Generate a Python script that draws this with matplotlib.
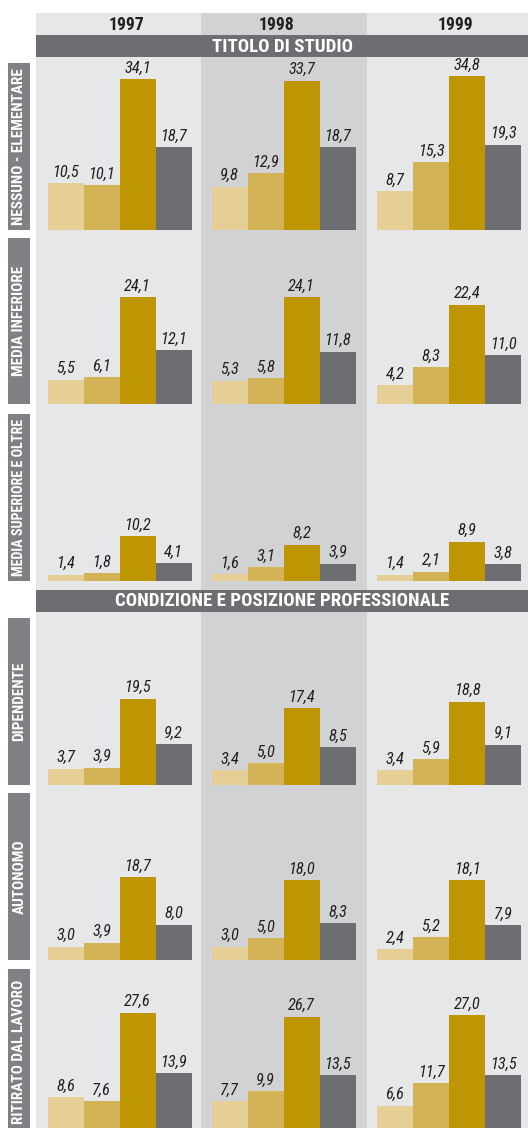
import matplotlib
matplotlib.use("Agg")
import matplotlib.pyplot as plt
from matplotlib.patches import Rectangle
from matplotlib import font_manager

# ---- data -------------------------------------------------------------
years = ["1997", "1998", "1999"]
section_titles = ["TITOLO DI STUDIO", "CONDIZIONE E POSIZIONE PROFESSIONALE"]
row_labels = [
    "NESSUNO - ELEMENTARE",
    "MEDIA INFERIORE",
    "MEDIA SUPERIORE E OLTRE",
    "DIPENDENTE",
    "AUTONOMO",
    "RITIRATO DAL LAVORO",
]

# four series per panel, one list per year
nessuno_elementare = [[10.5, 10.1, 34.1, 18.7], [9.8, 12.9, 33.7, 18.7], [8.7, 15.3, 34.8, 19.3]]
media_inferiore = [[5.5, 6.1, 24.1, 12.1], [5.3, 5.8, 24.1, 11.8], [4.2, 8.3, 22.4, 11.0]]
media_superiore = [[1.4, 1.8, 10.2, 4.1], [1.6, 3.1, 8.2, 3.9], [1.4, 2.1, 8.9, 3.8]]
dipendente = [[3.7, 3.9, 19.5, 9.2], [3.4, 5.0, 17.4, 8.5], [3.4, 5.9, 18.8, 9.1]]
autonomo = [[3.0, 3.9, 18.7, 8.0], [3.0, 5.0, 18.0, 8.3], [2.4, 5.2, 18.1, 7.9]]
ritirato = [[8.6, 7.6, 27.6, 13.9], [7.7, 9.9, 26.7, 13.5], [6.6, 11.7, 27.0, 13.5]]

rows = [nessuno_elementare, media_inferiore, media_superiore, dipendente, autonomo, ritirato]

# ---- style ------------------------------------------------------------
bar_colors = ["#e5cf97", "#d4b256", "#be9604", "#6d6e71"]
col_bg = ["#e6e7e8", "#d1d2d4", "#e6e7e8"]
banner_color = "#6d6e71"
label_box_color = "#808184"
text_dark = "#231f20"

names = {f.name for f in font_manager.fontManager.ttflist}
FONT = dict(family="DejaVu Sans", stretch="condensed")
for cand in ["Roboto Condensed", "Liberation Sans Narrow", "Open Sans Condensed"]:
    if cand in names:
        FONT = dict(family=cand)
        break

W, H = 528, 1128
fig = plt.figure(figsize=(W / 100, H / 100), dpi=100)
fig.patch.set_facecolor("white")
renderer = fig.canvas.get_renderer()


def fx(x):
    return x / W


def fy(y):
    return 1 - y / H


def rect_px(x0, y0, x1, y1, color):
    fig.add_artist(Rectangle((fx(x0), fy(y1)), fx(x1) - fx(x0), fy(y0) - fy(y1),
                             transform=fig.transFigure, facecolor=color,
                             edgecolor="none", zorder=0))


# layout in pixels
col_edges = [36, 201, 367, 528]
bar_left = [47.7, 211.7, 377.0]
bar_span = 144
baselines = [230, 404, 581, 785, 960, 1135]
label_tops = [63, 238, 414, 618, 793, 969]
banner_spans = [(35, 57), (590, 612)]
year_x = [126, 276, 455]
px_per_unit = 4.43
panel_h = 165

# column backgrounds
for c in range(3):
    rect_px(col_edges[c], 13, col_edges[c + 1], H, col_bg[c])

# section banners
for (y0, y1), title in zip(banner_spans, section_titles):
    rect_px(36, y0, 528, y1, banner_color)
    fig.text(fx(282), fy((y0 + y1) / 2 + 0.5), title, color="white",
             fontsize=13.6, fontweight="bold", ha="center", va="center", **FONT)

# year headers
for c, yr in enumerate(years):
    fig.text(fx(year_x[c]), fy(24.5), yr, color=text_dark, fontsize=12.8,
             fontweight="heavy", ha="center", va="center", **FONT)

# row label boxes, vertical labels shrunk to fit inside their box
max_label_size = 11.0
max_label_len = 158
for r, lab in enumerate(row_labels):
    rect_px(8, label_tops[r], 30, baselines[r], label_box_color)
    t = fig.text(fx(19.5), fy((label_tops[r] + baselines[r]) / 2), lab,
                 color="white", fontsize=max_label_size, fontweight="bold",
                 rotation=90, ha="center", va="center", **FONT)
    length = t.get_window_extent(renderer).height
    if length > max_label_len:
        t.set_fontsize(max_label_size * max_label_len / length)

# bar panels
for r, row in enumerate(rows):
    for c in range(3):
        ax = fig.add_axes([fx(bar_left[c]), fy(baselines[r]),
                           bar_span / W, panel_h / H])
        ax.set_xlim(-0.5, 3.5)
        ax.set_ylim(0, panel_h / px_per_unit)
        ax.axis("off")
        ax.patch.set_alpha(0)
        vals = row[c]
        bars = ax.bar(range(len(vals)), vals, width=1.0, color=bar_colors,
                      edgecolor="none")
        ax.bar_label(bars, labels=[f"{v:.1f}".replace(".", ",") for v in vals],
                     padding=2.5, fontsize=11.8, fontstyle="italic",
                     fontweight="normal", color=text_dark, clip_on=False, **FONT)

fig.savefig("out.png", dpi=100, facecolor="white")
